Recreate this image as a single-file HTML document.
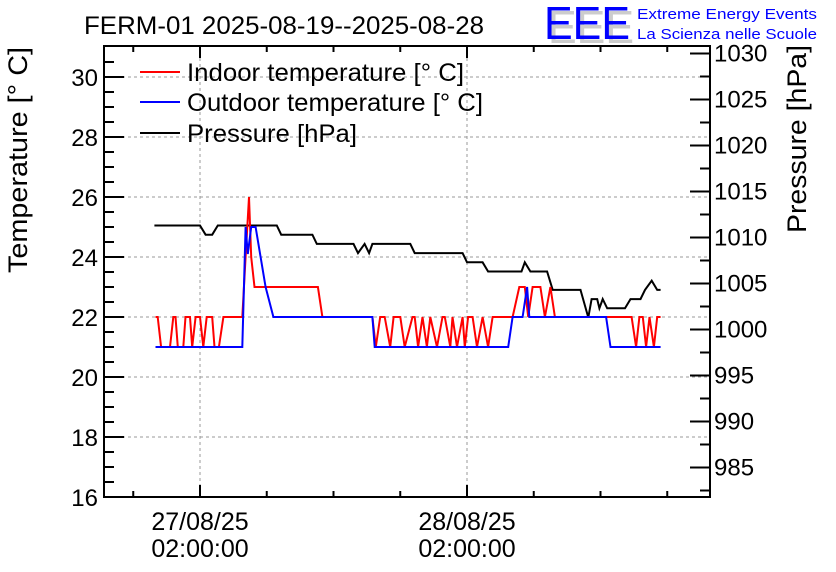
<!DOCTYPE html>
<html><head><meta charset="utf-8"><style>
body{margin:0;background:#fff;}
svg{display:block;font-family:"Liberation Sans",sans-serif;}
</style></head><body>
<svg id="chart" width="836" height="572" viewBox="0 0 836 572" xmlns="http://www.w3.org/2000/svg">
<rect width="836" height="572" fill="#fff"/>
<text x="84" y="34" font-size="25" textLength="400" lengthAdjust="spacingAndGlyphs">FERM-01 2025-08-19--2025-08-28</text>
<g>
<text x="548" y="43" font-size="46" fill="#ccc" textLength="86" lengthAdjust="spacingAndGlyphs">EEE</text>
<text x="544" y="39" font-size="46" fill="#0000ff" textLength="86" lengthAdjust="spacingAndGlyphs">EEE</text>
<text x="637" y="19" font-size="15" fill="#0000ff" textLength="180" lengthAdjust="spacingAndGlyphs">Extreme Energy Events</text>
<text x="637" y="39" font-size="15" fill="#0000ff" textLength="180" lengthAdjust="spacingAndGlyphs">La Scienza nelle Scuole</text>
</g>
<g id="grid"></g>
<g id="axes"></g>
<g id="series"></g>
<g font-size="25">
<g><line x1="140" y1="72" x2="180" y2="72" stroke="#f00" stroke-width="2"/><text x="187" y="81" textLength="277" lengthAdjust="spacingAndGlyphs">Indoor temperature [° C]</text></g>
<g><line x1="140" y1="102" x2="180" y2="102" stroke="#00f" stroke-width="2"/><text x="187" y="111" textLength="296" lengthAdjust="spacingAndGlyphs">Outdoor temperature [° C]</text></g>
<g><line x1="140" y1="133" x2="180" y2="133" stroke="#000" stroke-width="2"/><text x="187" y="142" textLength="170" lengthAdjust="spacingAndGlyphs">Pressure [hPa]</text></g>
</g>
<text transform="translate(27,273) rotate(-90)" font-size="27" textLength="226" lengthAdjust="spacingAndGlyphs">Temperature [° C]</text>
<text transform="translate(806,233) rotate(-90)" font-size="27" textLength="188" lengthAdjust="spacingAndGlyphs">Pressure [hPa]</text>
</svg>
<script>
const indoorT=[-4.0,-3.8,-3.5,-2.7,-2.4,-2.2,-2.0,-1.5,-1.3,-0.9,-0.7,-0.4,0,0.3,0.6,1.1,1.3,1.7,2.1,3.8,4.1,4.4,4.6,4.9,10.6,11.0,15.5,15.8,16.2,16.6,17.1,17.4,17.8,18.0,18.4,19.1,19.3,19.6,20.0,20.4,20.7,21.3,21.8,22.0,22.5,22.7,23.1,23.6,23.8,24.1,24.5,24.9,25.4,25.9,26.3,28.1,28.7,29.2,29.5,29.9,30.6,31.0,31.5,31.9,38.8,39.2,39.5,39.8,40.1,40.4,40.8,41.1,41.4];
const indoorV=[22,22,21,21,22,22,21,21,22,22,21,22,22,21,22,22,21,21,22,22,24,26,24,23,23,22,22,21,22,22,21,22,22,22,21,22,22,21,22,21,22,21,22,22,21,22,21,22,21,22,22,21,22,21,22,22,23,23,22,23,23,22,23,22,22,21,22,22,21,22,21,22,22];
const outdoorT=[-4.0,3.8,4.1,4.3,4.6,5.0,5.9,6.6,15.5,15.7,27.7,28.1,29.0,29.4,29.6,36.5,36.9,41.4];
const outdoorV=[21,21,25,24.1,25,25,23,22,22,21,21,22,22,23,22,22,21,21];
const pressT=[-4.1,0,0.5,1.1,1.6,6.9,7.3,10.1,10.5,13.8,14.2,14.8,15.2,15.5,18.9,19.3,23.6,24.0,25.4,25.9,28.9,29.2,29.7,31.2,31.7,34.2,34.9,35.2,35.7,35.9,36.2,36.6,38.2,38.7,39.6,40.0,40.6,41.1,41.4];
const pressV=[1011.3,1011.3,1010.3,1010.3,1011.3,1011.3,1010.3,1010.3,1009.3,1009.3,1008.3,1009.3,1008.3,1009.3,1009.3,1008.3,1008.3,1007.3,1007.3,1006.3,1006.3,1007.3,1006.3,1006.3,1004.3,1004.3,1001.3,1003.3,1003.3,1002.3,1003.3,1002.3,1002.3,1003.3,1003.3,1004.3,1005.3,1004.3,1004.3];
const tempTicks=[16,18,20,22,24,26,28,30];
const pressTicks=[985,990,995,1000,1005,1010,1015,1020,1025,1030];
const xMajor=[0,24];
const xLabels=[["27/08/25","02:00:00"],["28/08/25","02:00:00"]];

const L=104,R=710,T=46,B=497;
const NS="http://www.w3.org/2000/svg";
const xs=h=>200+h*267/24;
const yT=v=>497-(v-16)*30;
const yP=v=>53.5+(1030-v)*9.2;
function mk(tag,attrs,parent){const e=document.createElementNS(NS,tag);for(const k in attrs)e.setAttribute(k,attrs[k]);parent.appendChild(e);return e;}
const grid=document.getElementById('grid'),axes=document.getElementById('axes'),ser=document.getElementById('series');
tempTicks.forEach(v=>{const y=yT(v);
 if(v>16){const g=mk('line',{x1:L,x2:R,y1:y,y2:y,stroke:'#999','stroke-dasharray':'3,3','stroke-width':1},grid);
 
 }
 mk('line',{x1:L,x2:L+20,y1:y,y2:y,stroke:'#000','stroke-width':2},axes);
 const t=mk('text',{x:L-6,y:y+9,'text-anchor':'end','font-size':24},axes);t.textContent=v;
 
 
 if(v<30){mk('line',{x1:L,x2:L+10,y1:yT(v+0.5),y2:yT(v+0.5),stroke:'#000','stroke-width':2},axes);mk('line',{x1:L,x2:L+10,y1:yT(v+1),y2:yT(v+1),stroke:'#000','stroke-width':2},axes);mk('line',{x1:L,x2:L+10,y1:yT(v+1.5),y2:yT(v+1.5),stroke:'#000','stroke-width':2},axes);}
});
mk('line',{x1:L,x2:L+10,y1:yT(30.5),y2:yT(30.5),stroke:'#000','stroke-width':2},axes);
pressTicks.forEach(v=>{const y=yP(v);
 mk('line',{x1:R-20,x2:R,y1:y,y2:y,stroke:'#000','stroke-width':2},axes);
 mk('line',{x1:R-10,x2:R,y1:yP(v-2.5),y2:yP(v-2.5),stroke:'#000','stroke-width':2},axes);
 const t=mk('text',{x:R+4,y:y+8,'font-size':24},axes);t.textContent=v;
 
 
});
for(let h=-6;h<=48;h+=6){const x=xs(h);if(x<L||x>R)continue;const maj=xMajor.includes(h);
 mk('line',{x1:x,x2:x,y1:B,y2:B-(maj?12:6),stroke:'#000','stroke-width':2},axes);
 mk('line',{x1:x,x2:x,y1:T,y2:T+(maj?12:6),stroke:'#000','stroke-width':2},axes);}
xMajor.forEach((h,i)=>{const x=xs(h);
 const g=mk('line',{x1:x,x2:x,y1:T,y2:B,stroke:'#999','stroke-dasharray':'3,3','stroke-width':1},grid);
 
 
 const t=mk('text',{x:x,y:530,'text-anchor':'middle','font-size':25},axes);t.textContent=xLabels[i][0];
 
 
 const t2=mk('text',{x:x,y:557,'text-anchor':'middle','font-size':25},axes);t2.textContent=xLabels[i][1];
 
 
});
mk('rect',{x:L,y:T,width:R-L,height:B-T,fill:'none',stroke:'#000','stroke-width':2},axes);
function line(ts,vs,yf,col,name){const pts=ts.map((t,i)=>xs(t).toFixed(1)+','+yf(vs[i]).toFixed(1)).join(' ');
 const p=mk('polyline',{points:pts,fill:'none',stroke:col,'stroke-width':2},ser);
 
 }
line(pressT,pressV,yP,'#000','pressure-line');
line(indoorT,indoorV,yT,'#f00','indoor-temperature-line');
line(outdoorT,outdoorV,yT,'#00f','outdoor-temperature-line');
</script>
</body></html>
